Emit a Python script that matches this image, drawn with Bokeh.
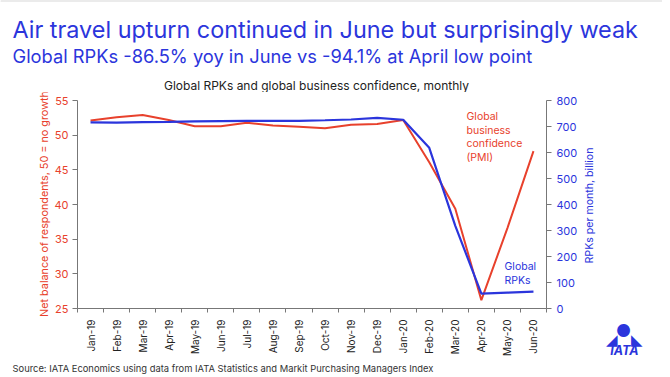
import math
from bokeh.plotting import figure
from bokeh.layouts import column, row
from bokeh.models import Range1d, LinearAxis, FixedTicker, Label
from bokeh.embed import file_html
from bokeh.resources import INLINE

months = ["Jan-19", "Feb-19", "Mar-19", "Apr-19", "May-19", "Jun-19", "Jul-19", "Aug-19",
          "Sep-19", "Oct-19", "Nov-19", "Dec-19", "Jan-20", "Feb-20", "Mar-20", "Apr-20",
          "May-20", "Jun-20"]
pmi = [52.1, 52.6, 52.9, 52.2, 51.3, 51.3, 51.8, 51.4, 51.2, 51.0, 51.5, 51.6, 52.2,
       46.1, 39.4, 26.2, 36.6, 47.7]
rpk = [716, 715, 717, 718, 720, 721, 722, 722, 722, 724, 727, 733, 726,
       618, 318, 57, 61, 65]
left_ticks = [25, 30, 35, 40, 45, 50, 55]
right_ticks = [0, 100, 200, 300, 400, 500, 600, 700, 800]

RED = "#e8412c"
BLUE = "#2b35dc"
FONT = "Inter"
LEFT0, TOP0 = 0, 0     # page position of the layout's top-left corner
W = 662


def blank(w, h, top_border=0):
    f = figure(width=w, height=h, x_range=Range1d(0, w), y_range=Range1d(0, h - top_border),
               output_backend="svg", toolbar_location=None, min_border=0,
               min_border_top=top_border)
    f.axis.visible = False
    f.grid.visible = False
    f.outline_line_color = None
    f.background_fill_color = "white"
    f.border_fill_color = "#b0b0b0" if top_border else "white"
    return f


def put(fig, left, top, h, text, px, py, size, color, align="left", style="normal", angle=0.0):
    fig.add_layout(Label(x=px - left, y=h - (py - top), text=text, text_font=FONT,
                         text_font_size=size, text_color=color, text_align=align,
                         text_baseline="middle", text_font_style=style, angle=angle))


# ---------- header ----------
HH = 92
header = blank(W, HH, top_border=1)
put(header, LEFT0, TOP0, HH, "Air travel upturn continued in June but surprisingly weak",
    12, 29, "23.4px", BLUE)
put(header, LEFT0, TOP0, HH, "Global RPKs -86.5% yoy in June vs -94.1% at April low point",
    12, 55, "18.3px", BLUE)
put(header, LEFT0, TOP0, HH, "Global RPKs and global business confidence, monthly",
    316, 85, "12px", "#222222", "center")

# ---------- middle row ----------
HM = 266
MT = TOP0 + HH
FRAME_L, FRAME_R, FRAME_T, FRAME_B = 77, 548, 100, 310
LW = 51                       # left label strip: page x 0..51
MW = 580 - LW                 # main chart: page x 51..580
RW = W - LW - MW              # right strip: page x 580..662

leftfig = blank(LW, HM)
put(leftfig, LEFT0, MT, HM, "Net balance of respondents, 50 = no growth",
    44, 203.5, "10.8px", RED, "center", angle=math.pi / 2)

x = list(range(len(months)))
p = figure(width=MW, height=HM, x_range=Range1d(-0.5, len(months) - 0.5),
           y_range=Range1d(25, 55), output_backend="svg", toolbar_location=None,
           min_border_left=FRAME_L - LW, min_border_right=LW + MW - FRAME_R,
           min_border_top=FRAME_T - MT, min_border_bottom=MT + HM - FRAME_B)
p.extra_y_ranges = {"rpk": Range1d(0, 800)}
p.outline_line_color = None
p.xgrid.visible = False
p.ygrid.visible = False
p.border_fill_color = "white"

ya = p.yaxis[0]
ya.ticker = FixedTicker(ticks=left_ticks, minor_ticks=[])
ya.axis_line_color = "#777777"
ya.major_tick_line_color = "#777777"
ya.major_tick_out = 5
ya.major_tick_in = 0
ya.major_label_text_color = RED
ya.major_label_text_font = FONT
ya.major_label_text_font_size = "11px"
ya.major_label_standoff = 4

ra = LinearAxis(y_range_name="rpk", ticker=FixedTicker(ticks=right_ticks, minor_ticks=[]))
ra.axis_line_color = "#777777"
ra.major_tick_line_color = "#777777"
ra.major_tick_out = 5
ra.major_tick_in = 0
ra.major_label_text_color = BLUE
ra.major_label_text_font = FONT
ra.major_label_text_font_size = "11px"
ra.major_label_standoff = 5
p.add_layout(ra, "right")

xa = p.xaxis[0]
xa.ticker = FixedTicker(ticks=x, minor_ticks=[i - 0.5 for i in range(len(months) + 1)])
xa.major_label_overrides = {i: m for i, m in enumerate(months)}
xa.major_label_orientation = math.pi / 2
xa.major_tick_out = 0
xa.major_tick_in = 0
xa.minor_tick_out = 4
xa.minor_tick_in = 0
xa.axis_line_color = "#777777"
xa.minor_tick_line_color = "#777777"
xa.major_label_text_color = "#222222"
xa.major_label_text_font = FONT
xa.major_label_text_font_size = "10px"
xa.major_label_standoff = 7

p.line(x, pmi, line_color=RED, line_width=2)
p.line(x, rpk, y_range_name="rpk", line_color=BLUE, line_width=2.2)


def at(text, page_x, page_y, size, color):
    # frame-relative screen coordinates
    p.add_layout(Label(x=page_x - FRAME_L, y=FRAME_B - page_y, x_units="screen",
                       y_units="screen", text=text, text_font=FONT, text_font_size=size,
                       text_color=color, text_baseline="middle"))


for i, t in enumerate(["Global", "business", "confidence", "(PMI)"]):
    at(t, 466, 118 + 13.5 * i, "10.5px", RED)
for i, t in enumerate(["Global", "RPKs"]):
    at(t, 504, 268 + 13.5 * i, "10.5px", BLUE)

# ---------- right strip: axis title and logo ----------
rightfig = blank(RW, HM)
RL = LW + MW
put(rightfig, RL, MT, HM, "RPKs per month, billion", 589, 205, "10.6px", BLUE, "center",
    angle=math.pi / 2)
put(rightfig, RL, MT, HM, "\u25CF", 623, 330, "17px", BLUE, "center")
put(rightfig, RL, MT, HM, "\u25E2", 611, 339, "15px", BLUE, "center")
put(rightfig, RL, MT, HM, "\u25E3", 636, 339, "15px", BLUE, "center")
put(rightfig, RL, MT, HM, "IATA", 624, 350, "12.5px", BLUE, "center", "bold italic")

# ---------- footer ----------
HF = 377 - MT - HM
footer = blank(W, HF)
put(footer, LEFT0, MT + HM, HF,
    "Source: IATA Economics using data from IATA Statistics and Markit Purchasing Managers Index",
    12, 368, "9.4px", "#333333")

# side strips wrapped in their own columns so their frames are not aligned to the chart's
layout = column(header, row(column(leftfig), p, column(rightfig)), footer)
open("out.html", "w").write(file_html(layout, INLINE))
